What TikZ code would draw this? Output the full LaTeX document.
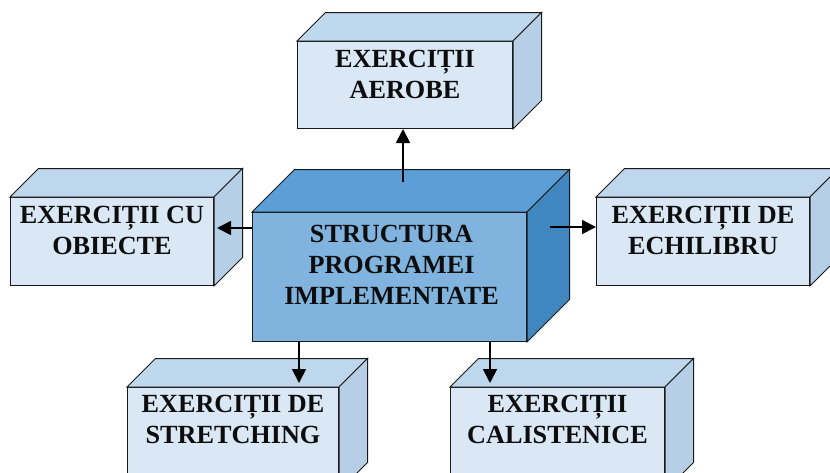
\documentclass[tikz,border=0pt]{standalone}
\usepackage{fontspec}
\setmainfont{Liberation Serif}
\usetikzlibrary{arrows.meta,calc}
\definecolor{sfront}{RGB}{218,232,245}
\definecolor{stop}{RGB}{190,215,237}
\definecolor{sside}{RGB}{182,207,230}
\definecolor{cfront}{RGB}{128,180,223}
\definecolor{ctop}{RGB}{91,159,214}
\definecolor{cside}{RGB}{64,135,191}
\newcommand{\cubebox}[9]{%
  \node[face, fill=#7, minimum width={#4-#2}, minimum height={#5-#3}, anchor=north west] (#1) at (#2,#3) {};
  \filldraw[face, fill=#8] (#1.north west) -- ++(#6,-#6) -- ($(#1.north east)+(#6,-#6)$) -- (#1.north east) -- cycle;
  \filldraw[face, fill=#9] (#1.north east) -- ++(#6,-#6) -- ($(#1.south east)+(#6,-#6)$) -- (#1.south east) -- cycle;
}
\begin{document}
\begin{tikzpicture}[x=1pt, y=-1pt,
  face/.style={draw=black!90, line width=1pt, inner sep=0pt},
  lbl/.style={font=\fontsize{26.2}{31}\selectfont\bfseries, align=center, inner sep=0pt, anchor=north, text=black!95},
  conn/.style={draw=black, line width=1.7pt, -{Triangle[length=14pt,width=14pt]}}]
\useasboundingbox (0,0) rectangle (830,472);
\clip (0,0) rectangle (830,472);
% boxes
\cubebox{aer}{297}{41}{512}{128}{28.5}{sfront}{stop}{sside}
\node[lbl] (aert) at ($(aer.north)+(0,9)$) {EXERCIȚII\\AEROBE};
\cubebox{obi}{10}{197}{213}{285}{28.5}{sfront}{stop}{sside}
\node[lbl] (obit) at ($(obi.north)+(0,9)$) {EXERCIȚII CU\\OBIECTE};
\cubebox{ech}{596}{197}{809}{285}{28.5}{sfront}{stop}{sside}
\node[lbl] (echt) at ($(ech.north)+(0,9)$) {EXERCIȚII DE\\ECHILIBRU};
\cubebox{str}{127}{387}{338}{490}{28.5}{sfront}{stop}{sside}
\node[lbl] (strt) at ($(str.north)+(0,8)$) {EXERCIȚII DE\\STRETCHING};
\cubebox{cal}{450}{387}{664}{490}{28.5}{sfront}{stop}{sside}
\node[lbl] (calt) at ($(cal.north)+(0,8)$) {EXERCIȚII\\CALISTENICE};
\cubebox{cen}{252}{212}{526}{341}{42.5}{cfront}{ctop}{cside}
\node[lbl] (cent) at ($(cen.north)+(2,13)$) {STRUCTURA\\PROGRAMEI\\IMPLEMENTATE};
% connector start points
\coordinate (cu) at (403,182);
\coordinate (cr) at (550,227);
\coordinate (cl) at (252,228);
\coordinate (cdl) at (299,341);
\coordinate (cdr) at (490,341);
\coordinate (sdl) at (299,383);
\coordinate (sdr) at (490,383);
% connectors
\draw[conn] (cu) -- (cu |- aer.south);
\draw[conn] (cr) -- (cr -| ech.west);
\draw[conn] (cl) -- ($(cl -| obi.east)+(3,0)$);
\draw[conn] (cdl) -- (sdl);
\draw[conn] (cdr) -- (sdr);
\end{tikzpicture}
\end{document}
